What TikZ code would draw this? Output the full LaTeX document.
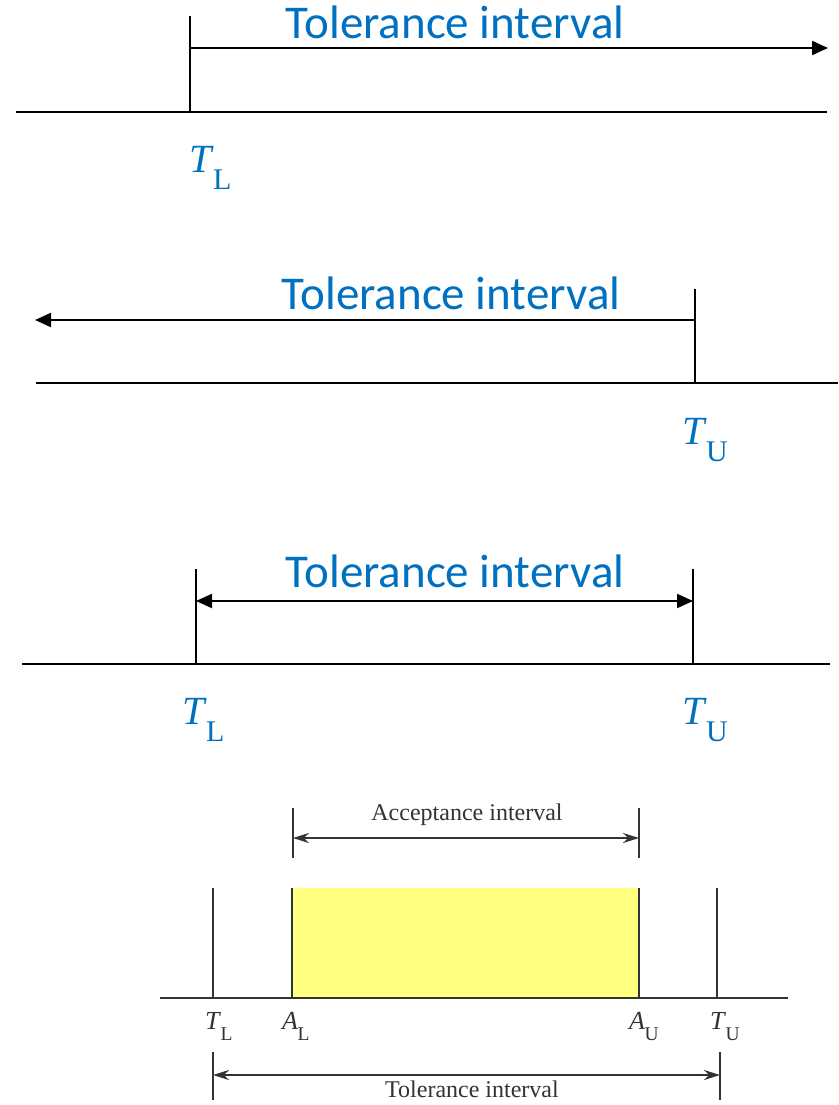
\documentclass[tikz,border=0pt]{standalone}
\usepackage{fontspec}
\setmainfont{Liberation Serif}
\newfontfamily\calib{Carlito}
\usetikzlibrary{arrows.meta}
\definecolor{tblue}{HTML}{0070C0}
\definecolor{accfill}{HTML}{FFFF80}
\definecolor{darkline}{HTML}{333333}
\newcommand\symlab[2]{\textit{#1}\kern-0.02em\raisebox{-0.44em}{\scalebox{0.75}{#2}}}
\begin{document}
\begin{tikzpicture}[x=1pt,y=-1pt,
  axis/.style={line width=1.8pt,black},
  tick/.style={line width=1.3pt,black},
  bigarrow/.style={line width=2pt,black,-{Triangle[length=16pt,width=14pt]}},
  bigdarrow/.style={line width=2pt,black,{Triangle[length=16pt,width=14pt]}-{Triangle[length=16pt,width=14pt]}},
  bluetext/.style={text=tblue,font=\calib\fontsize{47}{50}\selectfont,inner sep=0pt,anchor=base},
  bluelab/.style={text=tblue,font=\fontsize{40}{44}\selectfont,inner sep=0pt,anchor=base west},
  smalltext/.style={text=darkline,font=\fontsize{24}{26}\selectfont,inner sep=0pt,anchor=base},
  smalllab/.style={text=darkline,font=\fontsize{26}{28}\selectfont,inner sep=0pt,anchor=base west},
  thin/.style={line width=1.3pt,darkline},
  smalldarrow/.style={line width=2pt,darkline,{Stealth[length=16pt,width=10pt]}-{Stealth[length=16pt,width=10pt]}}
]
\useasboundingbox (0,0) rectangle (838,1105);
\fill[white] (0,0) rectangle (838,1105);

% ---------- Panel 1 ----------
\coordinate (a1l) at (16,112);
\coordinate (a1r) at (827,112);
\coordinate (p1top) at (190,16);
\coordinate (p1base) at (190,112);
\coordinate (p1s) at (190,48);
\coordinate (p1e) at (828,48);
\draw[axis] (a1l) -- (a1r);
\draw[tick] (p1top) -- (p1base);
\draw[bigarrow] (p1s) -- (p1e);
\node[bluetext] (t1) at (455,39) {Tolerance interval};
\node[bluelab] (tl1) at (189,172) {\symlab{T}{L}};

% ---------- Panel 2 ----------
\coordinate (a2l) at (36,383);
\coordinate (a2r) at (838,383);
\coordinate (p2top) at (695,289);
\coordinate (p2base) at (695,383);
\coordinate (p2s) at (695,320);
\coordinate (p2e) at (35,320);
\draw[axis] (a2l) -- (a2r);
\draw[tick] (p2top) -- (p2base);
\draw[bigarrow] (p2s) -- (p2e);
\node[bluetext] (t2) at (451,309) {Tolerance interval};
\node[bluelab] (tu2) at (682,444) {\symlab{T}{U}};

% ---------- Panel 3 ----------
\coordinate (a3l) at (22,664);
\coordinate (a3r) at (830,664);
\coordinate (p3ltop) at (196,569);
\coordinate (p3lbase) at (196,664);
\coordinate (p3rtop) at (693,569);
\coordinate (p3rbase) at (693,664);
\coordinate (p3s) at (196,601);
\coordinate (p3e) at (693,601);
\draw[axis] (a3l) -- (a3r);
\draw[tick] (p3ltop) -- (p3lbase);
\draw[tick] (p3rtop) -- (p3rbase);
\draw[bigdarrow] (p3s) -- (p3e);
\node[bluetext] (t3) at (455,587) {Tolerance interval};
\node[bluelab] (tl3) at (182,724) {\symlab{T}{L}};
\node[bluelab] (tu3) at (682,724) {\symlab{T}{U}};

% ---------- Panel 4 ----------
\node[smalltext] (acc) at (467,820) {Acceptance interval};
\coordinate (atl) at (293,808);
\coordinate (abl) at (293,858);
\coordinate (atr) at (639,808);
\coordinate (abr) at (639,858);
\coordinate (aas) at (293,838);
\coordinate (aae) at (639,838);
\draw[thin] (atl) -- (abl);
\draw[thin] (atr) -- (abr);
\draw[smalldarrow] (aas) -- (aae);

\coordinate (rtl) at (292,888);
\coordinate (rbr) at (639,998);
\fill[accfill] (rtl) rectangle (rbr);
\draw[thin] (292,888) -- (292,998);
\draw[thin] (639,888) -- (639,998);
\draw[thin] (213,888) -- (213,998);
\draw[thin] (717,888) -- (717,998);
\coordinate (b4l) at (160,998);
\coordinate (b4r) at (788,998);
\draw[line width=1.6pt,darkline] (b4l) -- (b4r);

\node[smalllab] (tl4) at (205,1029) {\symlab{T}{L}};
\node[smalllab] (al4) at (282,1029) {\symlab{A}{L}};
\node[smalllab] (au4) at (629,1029) {\symlab{A}{U}};
\node[smalllab] (tu4) at (710,1029) {\symlab{T}{U}};

\coordinate (ltl) at (213,1052);
\coordinate (lbl) at (213,1100);
\coordinate (ltr) at (720,1052);
\coordinate (lbr) at (720,1100);
\coordinate (las) at (213,1075);
\coordinate (lae) at (720,1075);
\draw[thin] (ltl) -- (lbl);
\draw[thin] (ltr) -- (lbr);
\draw[smalldarrow] (las) -- (lae);
\node[smalltext] (tol4) at (472,1097) {Tolerance interval};
\end{tikzpicture}
\end{document}
